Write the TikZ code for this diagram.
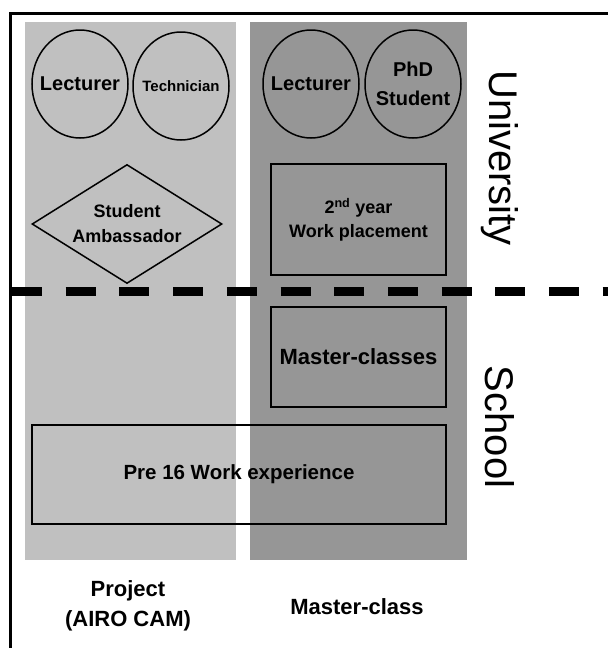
\documentclass[tikz,border=0pt]{standalone}
\usepackage{fontspec}
\setmainfont{Liberation Sans}
\usetikzlibrary{shapes.geometric}
\definecolor{projgray}{HTML}{C0C0C0}
\definecolor{mcgray}{HTML}{969696}

\begin{document}
\begin{tikzpicture}[x=1pt, y=-1pt]
      \tikzstyle{column}=[rectangle, inner sep=0pt, minimum height=538pt]
      \tikzstyle{person}=[ellipse, draw, line width=1.5pt, inner sep=-12pt,
        minimum width=96pt, minimum height=108pt, align=center,
        font=\bfseries\fontsize{20}{29}\selectfont]
      \tikzstyle{activity}=[rectangle, draw, line width=2pt, inner sep=0pt,
        align=center, font=\bfseries\fontsize{18}{24}\selectfont]
      \tikzstyle{side}=[rotate=-90, font=\fontsize{40}{44}\selectfont]
      \tikzstyle{caption}=[align=center, font=\bfseries\fontsize{22}{30}\selectfont]

      \useasboundingbox (0,0) rectangle (608,648);

      % columns
      \path (130.5, 291) node [column, fill=projgray, minimum width=211pt] (proj) {};
      \path (358.5, 291) node [column, fill=mcgray, minimum width=217pt] (mc) {};

      % frame
      \draw [line width=3pt] (608,13) -- (10,13) -- (10,648);

      % people
      \path (80, 84) node [person] (lect1) {Lecturer};
      \path (181, 86) node [person, font=\bfseries\fontsize{15}{18}\selectfont] (tech) {Technician};
      \path (311, 84) node [person] (lect2) {Lecturer};
      \path (413, 84) node [person] (phd) {PhD\\Student};

      \path (127, 224) node [diamond, draw, line width=1.5pt, inner sep=0pt, aspect=1.6,
        minimum width=190pt, minimum height=119pt, align=center,
        font=\bfseries\fontsize{18}{25}\selectfont] (amb) {Student\\Ambassador};

      \path (358.5, 219.5) node [activity, minimum width=175pt, minimum height=111pt] (place)
        {2\textsuperscript{nd} year\\Work placement};
      \path (358.5, 357) node [activity, minimum width=175pt, minimum height=100pt,
        font=\bfseries\fontsize{22}{26}\selectfont] (mclass) {Master-classes};
      \path (239, 474.5) node [activity, minimum width=414pt, minimum height=99pt,
        font=\bfseries\fontsize{20.5}{24}\selectfont] (pre16) {Pre 16 Work experience};

      % divide
      \draw [line width=9pt, dash pattern=on 30pt off 23.7pt] (12,291) -- (608,291);

      \path (500, 158) node [side] (uni) {University};
      \path (500, 427) node [side] (school) {School};

      \path (128, 606) node [caption] (projlabel) {Project\\(AIRO CAM)};
      \path (357, 607) node [caption] (mclabel) {Master-class};
    \end{tikzpicture}
\end{document}
